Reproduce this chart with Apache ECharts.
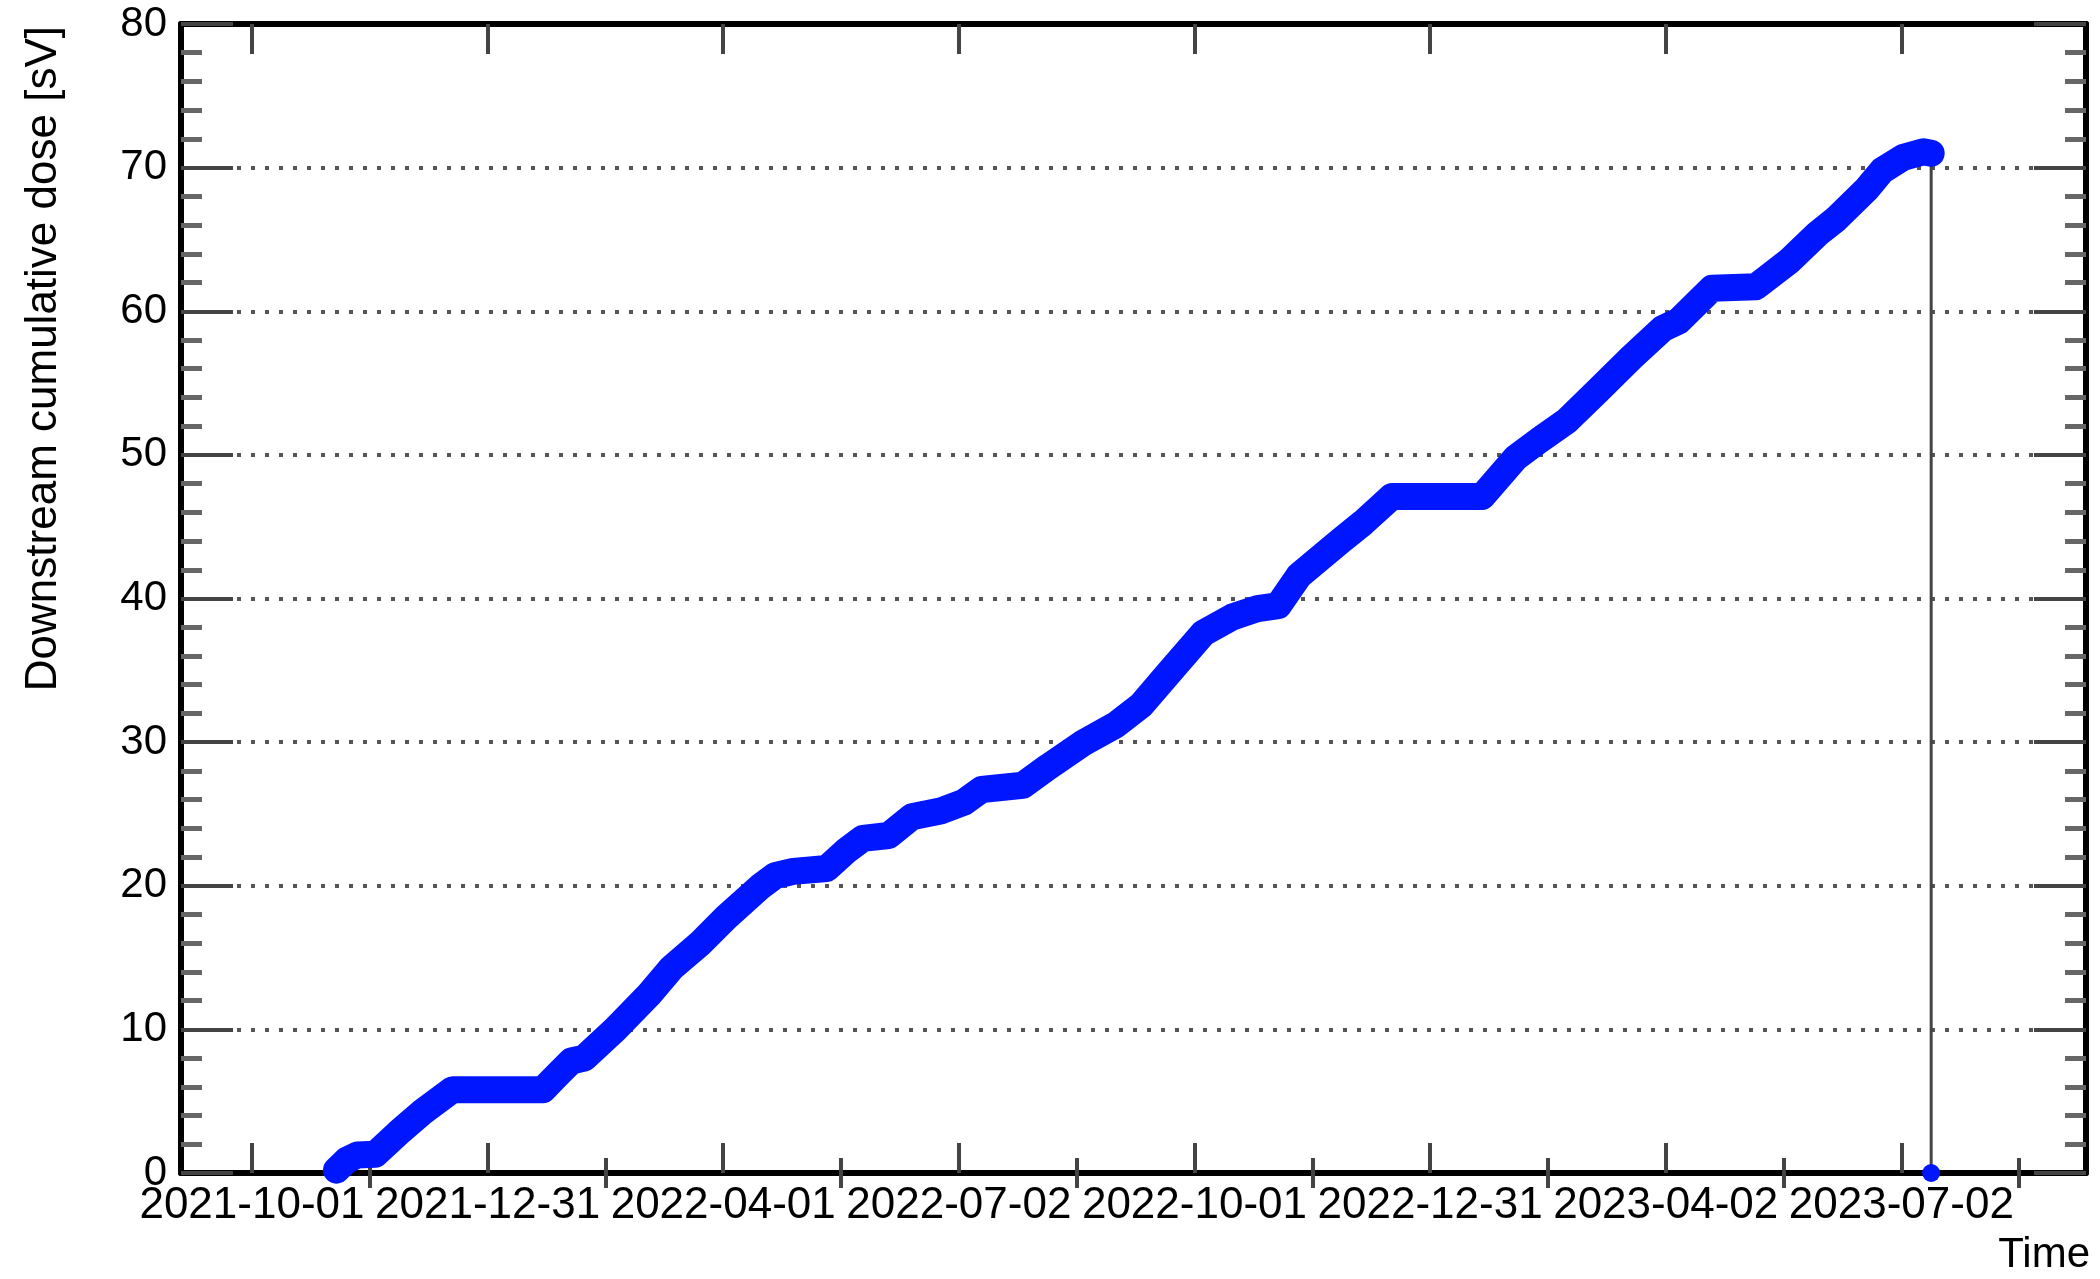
<!DOCTYPE html>
<html><head><meta charset="utf-8">
<script src="https://cdn.jsdelivr.net/npm/echarts@6/dist/echarts.min.js"></script>
<style>html,body{margin:0;padding:0;background:#fff}#c{width:2100px;height:1279px}</style>
</head><body><div id="c"></div>
<script>
// ---- data ----
const dates = [
 '2021-11-03','2021-11-07','2021-11-11','2021-11-18','2021-11-27','2021-12-06','2021-12-12','2021-12-18',
 '2022-01-22','2022-01-28','2022-02-02','2022-02-07','2022-02-19','2022-03-04','2022-03-13','2022-03-24',
 '2022-04-03','2022-04-16','2022-04-22','2022-04-29','2022-05-12','2022-05-20','2022-05-26','2022-06-05',
 '2022-06-14','2022-06-25','2022-07-04','2022-07-11','2022-07-27','2022-08-06','2022-08-19','2022-09-01',
 '2022-09-11','2022-09-21','2022-10-05','2022-10-16','2022-10-26','2022-11-03','2022-11-11','2022-11-27',
 '2022-12-06','2022-12-17','2023-01-21','2023-02-03','2023-02-12','2023-02-23','2023-03-07','2023-03-20',
 '2023-04-01','2023-04-07','2023-04-20','2023-05-07','2023-05-20','2023-05-31','2023-06-07','2023-06-19',
 '2023-06-25','2023-07-03','2023-07-11','2023-07-14'
];
const doses = [
 0.2, 0.9, 1.25, 1.3, 2.8, 4.2, 5.0, 5.8,
 5.8, 6.9, 7.8, 8.0, 10.0, 12.4, 14.3, 16.0,
 17.8, 19.9, 20.7, 21.0, 21.2, 22.5, 23.3, 23.5,
 24.8, 25.2, 25.8, 26.7, 27.0, 28.3, 29.9, 31.2,
 32.6, 34.7, 37.6, 38.7, 39.3, 39.5, 41.6, 44.0,
 45.3, 47.1, 47.1, 49.8, 51.0, 52.4, 54.5, 56.8,
 58.8, 59.3, 61.6, 61.7, 63.5, 65.4, 66.4, 68.5,
 69.8, 70.7, 71.1, 71.0
];
const dropDate = '2023-07-14';
const dropDose = 0;
const yTickValues = [0, 10, 20, 30, 40, 50, 60, 70, 80];
const xTickStart = '2021-10-01T06:00:00Z';
const xTickStepDays = 91.3125;
const xMinDate = '2021-09-03T18:00:00Z';
const xMaxDate = '2023-09-12T00:00:00Z';
const yTitle = 'Downstream cumulative dose [sV]';
const xTitle = 'Time';

// ---- helpers ----
const DAY = 86400000;
const toMs = s => Date.parse(s.length === 10 ? s + 'T00:00:00Z' : s);
const xMin = toMs(xMinDate), xMax = toMs(xMaxDate);
const t0 = toMs(xTickStart), step = xTickStepDays * DAY;
const majorTicks = [], minorTicks = [];
for (let k = -2; k <= 10; k++) {
  const v = t0 + k * step;
  if (v >= xMin && v <= xMax) majorTicks.push(v);
  const m = v + step / 2;
  if (m >= xMin && m <= xMax) minorTicks.push(m);
}
const pad = n => (n < 10 ? '0' : '') + n;
const fmtDate = v => { const d = new Date(v); return d.getUTCFullYear() + '-' + pad(d.getUTCMonth() + 1) + '-' + pad(d.getUTCDate()); };
const mainData = dates.map((d, i) => [toMs(d), doses[i]]);
const lastIdx = dates.length - 1;
const dropData = [
  { value: [toMs(dates[lastIdx]), doses[lastIdx]], symbol: 'none' },
  { value: [toMs(dropDate), dropDose], symbol: 'circle', symbolSize: 18 }
];

const FONT = 'Liberation Sans';
const frame = { show: true, onZero: false, lineStyle: { color: '#000', width: 6 } };
const tickStyle = { color: '#444', width: 4 };
function xAxisDef(pos, ticks, len, withLabels, showLine) {
  return {
    type: 'value', position: pos, min: xMin, max: xMax, gridIndex: 0,
    axisLine: showLine ? frame : { show: false },
    axisTick: { show: true, inside: true, length: len, customValues: ticks, lineStyle: tickStyle },
    axisLabel: withLabels ? {
      show: true, customValues: ticks, formatter: v => fmtDate(v), margin: 11,
      fontFamily: FONT, fontSize: 44, color: '#000'
    } : { show: false },
    splitLine: { show: false }, minorTick: { show: false }
  };
}
function yAxisDef(pos, withLabels) {
  return {
    type: 'value', position: pos, min: yTickValues[0], max: yTickValues[yTickValues.length - 1],
    interval: yTickValues[1] - yTickValues[0], gridIndex: 0,
    axisLine: frame,
    axisTick: { show: true, inside: true, length: 52, lineStyle: tickStyle },
    minorTick: { show: true, splitNumber: 5, length: 21, lineStyle: { color: '#666', width: 5 } },
    axisLabel: withLabels ? { show: true, margin: 14, fontFamily: FONT, fontSize: 42, color: '#000' } : { show: false },
    splitLine: withLabels ? { show: true, lineStyle: { color: '#555', width: 4, type: [4, 10] } } : { show: false }
  };
}

const chart = echarts.init(document.getElementById('c'), null, { renderer: 'canvas' });
chart.setOption({
  animation: false,
  backgroundColor: '#fff',
  grid: { left: 181, right: 14, top: 24, bottom: 106, containLabel: false, outerBoundsMode: 'none' },
  xAxis: [
    xAxisDef('bottom', majorTicks, 30, true, true),
    xAxisDef('bottom', minorTicks, 15, false, false),
    xAxisDef('top', majorTicks, 30, false, true),
    xAxisDef('top', minorTicks, 15, false, false)
  ],
  yAxis: [yAxisDef('left', true), yAxisDef('right', false)],
  graphic: [
    { type: 'text', x: 44, y: 26, rotation: Math.PI / 2,
      style: { text: yTitle, fontFamily: FONT, fontSize: 44, fill: '#000', align: 'right', verticalAlign: 'middle' } },
    { type: 'text', x: 2090, y: 1255,
      style: { text: xTitle, fontFamily: FONT, fontSize: 42, fill: '#000', align: 'right', verticalAlign: 'middle' } }
  ],
  series: [
    { type: 'line', xAxisIndex: 0, yAxisIndex: 0, data: dropData, clip: false, z: 3,
      lineStyle: { color: '#444', width: 3 }, itemStyle: { color: '#0016ff' } },
    { type: 'line', xAxisIndex: 0, yAxisIndex: 0, data: mainData, clip: false, z: 4,
      symbol: 'none', smooth: false,
      lineStyle: { color: '#0016ff', width: 27, cap: 'round', join: 'round' } }
  ]
});
</script></body></html>
